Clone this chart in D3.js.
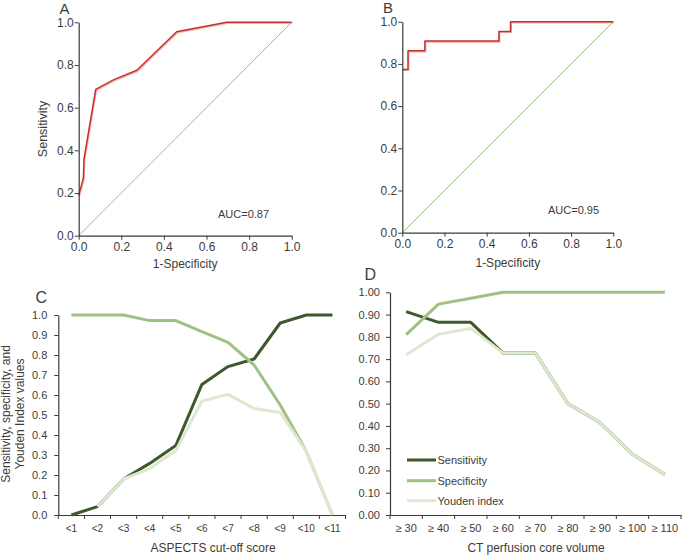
<!DOCTYPE html>
<html><head><meta charset="utf-8">
<script src="https://cdn.jsdelivr.net/npm/d3@7"></script>
<style>
body{margin:0;background:#fff;}
svg{display:block;}
text{font-family:"Liberation Sans",Arial,sans-serif;fill:#3c3c3c;}
</style></head>
<body>
<svg id="chart" width="683" height="555"></svg>
<script>
// ---------- DATA ----------
const rocA_fpr = [0, 0.022, 0.025, 0.08, 0.163, 0.273, 0.46, 0.695, 1.0];
const rocA_tpr = [0.19, 0.27, 0.36, 0.686, 0.73, 0.775, 0.956, 1.0, 1.0];
const rocB_fpr = [0, 0.027, 0.107, 0.458, 0.513, 1.0];
const rocB_tpr = [0.774, 0.862, 0.908, 0.954, 1.0, 1.0];
const aucA = "AUC=0.87";
const aucB = "AUC=0.95";
const rocTicks = [0, 0.2, 0.4, 0.6, 0.8, 1.0];

const cCats = ["<1","<2","<3","<4","<5","<6","<7","<8","<9","<10","<11"];
const cSens = [0.0, 0.042, 0.18, 0.258, 0.347, 0.653, 0.742, 0.78, 0.96, 1.0, 1.0];
const cSpec = [1.0, 1.0, 1.0, 0.972, 0.972, 0.917, 0.863, 0.75, 0.55, 0.317, 0.0];
const cYouden = [null, 0.042, 0.18, 0.232, 0.322, 0.57, 0.603, 0.532, 0.513, 0.317, 0.0];
const cTicks = [0,0.1,0.2,0.3,0.4,0.5,0.6,0.7,0.8,0.9,1.0];

const dCats = ["\u2265 30","\u2265 40","\u2265 50","\u2265 60","\u2265 70","\u2265 80","\u2265 90","\u2265 100","\u2265 110"];
const dSens = [0.913, 0.865, 0.865, 0.727, 0.727, 0.5, 0.414, 0.273, 0.182];
const dSpec = [0.81, 0.947, 0.973, 1.0, 1.0, 1.0, 1.0, 1.0, 1.0];
const dYouden = [0.72, 0.812, 0.838, 0.727, 0.727, 0.5, 0.414, 0.273, 0.182];
const dTicks = [0,0.1,0.2,0.3,0.4,0.5,0.6,0.7,0.8,0.9,1.0];

const seriesNames = ["Sensitivity","Specificity","Youden index"];
const seriesColors = ["#3d5a2d","#9fc182","#dde9cf"];

// ---------- DRAW ----------
const svg = d3.select("#chart");
const axisColor = "#3a3a3a";

function styleAxis(g, fs){
  g.attr("font-family", null).attr("font-size", null);
  g.selectAll("path.domain").attr("stroke", axisColor).attr("stroke-width", 1.2);
  g.selectAll(".tick line").attr("stroke", axisColor).attr("stroke-width", 1);
  g.selectAll(".tick text").style("font-size", fs + "px").attr("fill", "#3c3c3c");
}

function rocPanel(opt){
  const x = d3.scaleLinear().domain([0,1]).range(opt.xr);
  const y = d3.scaleLinear().domain([0,1]).range(opt.yr);
  const g = svg.append("g");
  // diagonal
  g.append("line").attr("x1", x(0)).attr("y1", y(0)).attr("x2", x(1)).attr("y2", y(1))
    .attr("stroke", "#93c27f").attr("stroke-width", 1);
  const pts = opt.fpr.map((f,i)=>[f, opt.tpr[i]]);
  const line = d3.line().x(d=>x(d[0])).y(d=>y(d[1])).curve(opt.curve);
  g.append("path").attr("d", line(pts)).attr("fill","none")
    .attr("stroke","#f3b3aa").attr("stroke-width",1.4).attr("transform","translate(0.8,1)");
  g.append("path").attr("d", line(pts)).attr("fill","none")
    .attr("stroke","#c4302c").attr("stroke-width",1.5).attr("stroke-linejoin","round");
  const ax = g.append("g").attr("transform",`translate(0,${opt.yr[0]})`)
    .call(d3.axisBottom(x).tickValues(rocTicks).tickFormat(d3.format(".1f")).tickSize(4).tickSizeOuter(0).tickPadding(3));
  styleAxis(ax, 12);
  const ay = g.append("g").attr("transform",`translate(${opt.xr[0]},0)`)
    .call(d3.axisLeft(y).tickValues(rocTicks).tickFormat(d3.format(".1f")).tickSize(4).tickSizeOuter(0).tickPadding(1));
  styleAxis(ay, 12);
  g.append("text").attr("x", (opt.xr[0]+opt.xr[1])/2).attr("y", opt.xtitleY)
    .attr("text-anchor","middle").style("font-size","12px").text("1-Specificity");
  if (opt.ytitle){
    g.append("text").attr("transform",`translate(${opt.ytitleX},${(opt.yr[0]+opt.yr[1])/2}) rotate(-90)`)
      .attr("text-anchor","middle").style("font-size","12.5px").text(opt.ytitle);
  }
  g.append("text").attr("x", opt.aucX).attr("y", opt.aucY).style("font-size","11px").text(opt.auc);
  g.append("text").attr("x", opt.letterX).attr("y", opt.letterY).style("font-size","15px").text(opt.letter);
}

rocPanel({xr:[78.7,291.7], yr:[235.7,22.3], fpr:rocA_fpr, tpr:rocA_tpr, curve:d3.curveLinear,
  xtitleY:268, ytitle:"Sensitivity", ytitleX:47, auc:aucA, aucX:218, aucY:218, letter:"A", letterX:59.5, letterY:13.5});
rocPanel({xr:[402.3,613.3], yr:[232.7,21.7], fpr:rocB_fpr, tpr:rocB_tpr, curve:d3.curveStepAfter,
  xtitleY:267, ytitle:null, auc:aucB, aucX:548, aucY:213.5, letter:"B", letterX:383, letterY:12.7});

function linePanel(opt){
  const x = d3.scaleBand().domain(opt.cats).range(opt.xr).paddingInner(0).paddingOuter(0);
  const y = d3.scaleLinear().domain([0,1]).range(opt.yr);
  const g = svg.append("g");
  const cx = d => x(d) + x.bandwidth()/2;
  const ax = g.append("g").attr("transform",`translate(0,${opt.yr[0]})`)
    .call(d3.axisBottom(x).tickSize(0).tickPadding(opt.xPad));
  styleAxis(ax, opt.xfs);
  const bounds = opt.cats.map(c=>x(c)).concat([opt.xr[1]]);
  ax.selectAll("line.bnd").data(bounds).enter().append("line").attr("class","bnd")
    .attr("x1", d=>d).attr("x2", d=>d).attr("y1",0).attr("y2",4)
    .attr("stroke", axisColor).attr("stroke-width",1);
  const ay = g.append("g").attr("transform",`translate(${opt.xr[0]},0)`)
    .call(d3.axisLeft(y).tickValues(opt.ticks).tickFormat(d3.format(opt.fmt)).tickSize(4).tickSizeOuter(0).tickPadding(opt.yPad));
  styleAxis(ay, 11);
  const series = [opt.sens, opt.spec, opt.youden];
  series.forEach((vals, si)=>{
    const pts = opt.cats.map((c,i)=>[c, vals[i]]);
    const line = d3.line().defined(d=>d[1]!==null).x(d=>cx(d[0])).y(d=>y(d[1]));
    g.append("path").attr("d", line(pts)).attr("fill","none")
      .attr("stroke", seriesColors[si]).attr("stroke-width",3)
      .attr("stroke-linejoin","round");
  });
  g.append("text").attr("x", opt.xtitleX).attr("y", 552)
    .attr("text-anchor","middle").style("font-size","12px").text(opt.xtitle);
  g.append("text").attr("x", opt.letterX).attr("y", opt.letterY).style("font-size","16px").text(opt.letter);
  return {g, x, y};
}

const C = linePanel({cats:cCats, xr:[58.3,345.5], yr:[515,315], sens:cSens, spec:cSpec, youden:cYouden,
  ticks:cTicks, fmt:".1f", xPad:10, yPad:7, xfs:10, xtitle:"ASPECTS cut-off score", xtitleX:213,
  letter:"C", letterX:35.5, letterY:303});
C.g.append("text").attr("transform",`translate(10,414) rotate(-90)`).attr("text-anchor","middle")
  .style("font-size","12px").text("Sensitivity, specificity, and");
C.g.append("text").attr("transform",`translate(24,414) rotate(-90)`).attr("text-anchor","middle")
  .style("font-size","12px").text("Youden Index values");

const D = linePanel({cats:dCats, xr:[390,681], yr:[515,292.3], sens:dSens, spec:dSpec, youden:dYouden,
  ticks:dTicks, fmt:".2f", xPad:9.5, yPad:6, xfs:11, xtitle:"CT perfusion core volume", xtitleX:536,
  letter:"D", letterX:364.5, letterY:280});

const leg = D.g.append("g");
const legY = [460, 480.7, 500.7];
seriesNames.forEach((n,i)=>{
  leg.append("line").attr("x1",407).attr("x2",436).attr("y1",legY[i]).attr("y2",legY[i])
    .attr("stroke", seriesColors[i]).attr("stroke-width",3);
  leg.append("text").attr("x",437.5).attr("y",legY[i]+4).style("font-size","11px").text(n);
});
</script>
</body></html>
